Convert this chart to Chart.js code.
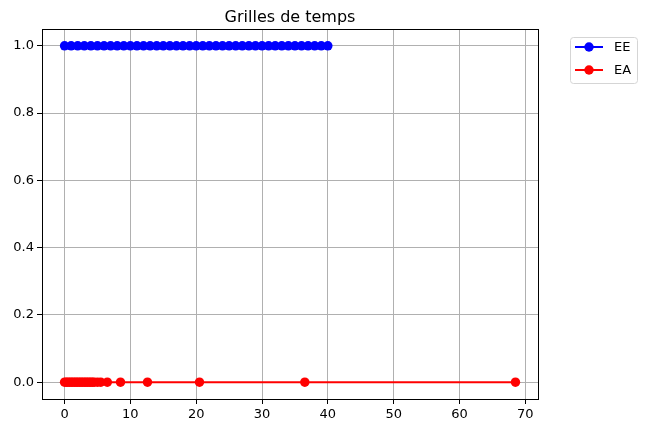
<!DOCTYPE html>
<html>
<head>
<meta charset="utf-8">
<script src="https://cdn.jsdelivr.net/npm/chart.js@4/dist/chart.umd.min.js"></script>
<style>
  html, body { margin: 0; padding: 0; background: #fff; }
  #wrap { width: 647px; height: 433px; }
</style>
</head>
<body>
<div id="wrap"><canvas id="c" width="647" height="433" role="img" aria-label="Grilles de temps: EE et EA"></canvas></div>
<script>
// time grids
const eeTimes = [0,1,2,3,4,5,6,7,8,9,10,11,12,13,14,15,16,17,18,19,20,
  21,22,23,24,25,26,27,28,29,30,31,32,33,34,35,36,37,38,39,40]
const eeLevel = 1
const eaTimes = [0,0.25,0.5,0.75,1,1.25,1.5,1.75,2,2.25,2.5,2.75,3,3.25,3.5,3.75,4,4.25,4.5,
  5,5.5,6.5,8.5,12.6,20.5,36.5,68.5]
const eaLevel = 0
const xTicks = [0,10,20,30,40,50,60,70]
const yTicks = [0,0.2,0.4,0.6,0.8,1.0]
const seriesNames = ['EE', 'EA']
const seriesColors = ['#0000ff', '#ff0000']
const chartTitle = 'Grilles de temps'

const FONT = 'DejaVu Sans, sans-serif'

const toPoints = (xs, y) => xs.map(x => ({ x, y }))

const frame = {
  id: 'frame',
  afterDraw(chart) {
    const { ctx, chartArea: a } = chart
    ctx.save()
    ctx.strokeStyle = '#000'
    ctx.lineWidth = 1
    ctx.strokeRect(Math.round(a.left) + 0.5, Math.round(a.top) + 0.5,
      Math.round(a.right - a.left), Math.round(a.bottom - a.top))
    // title
    ctx.fillStyle = '#000'
    ctx.font = '16px ' + FONT
    ctx.textAlign = 'center'
    ctx.textBaseline = 'alphabetic'
    ctx.fillText(chartTitle, (a.left + a.right) / 2, 22)
    // legend
    const lx = 570, ly = 37, lw = 67, lh = 46
    ctx.beginPath()
    ctx.roundRect(lx + 0.5, ly + 0.5, lw, lh, 3)
    ctx.fillStyle = 'rgba(255,255,255,0.8)'
    ctx.fill()
    ctx.strokeStyle = '#d5d5d5'
    ctx.stroke()
    ctx.font = '13px ' + FONT
    ctx.textAlign = 'left'
    ctx.textBaseline = 'middle'
    seriesNames.forEach((name, i) => {
      const y = ly + 10 + i * 23
      ctx.strokeStyle = seriesColors[i]
      ctx.lineWidth = 2
      ctx.beginPath()
      ctx.moveTo(lx + 5, y)
      ctx.lineTo(lx + 33, y)
      ctx.stroke()
      ctx.fillStyle = seriesColors[i]
      ctx.beginPath()
      ctx.arc(lx + 19, y, 4.7, 0, Math.PI * 2)
      ctx.fill()
      ctx.fillStyle = '#000'
      ctx.fillText(name, lx + 44, y + 1)
    })
    ctx.restore()
  }
}

new Chart(document.getElementById('c'), {
  type: 'scatter',
  data: {
    datasets: [
      { label: seriesNames[0], data: toPoints(eeTimes, eeLevel), showLine: true,
        borderColor: seriesColors[0], backgroundColor: seriesColors[0], borderWidth: 2,
        pointRadius: 4.7, pointBorderWidth: 0, pointHoverRadius: 4.7 },
      { label: seriesNames[1], data: toPoints(eaTimes, eaLevel), showLine: true,
        borderColor: seriesColors[1], backgroundColor: seriesColors[1], borderWidth: 2,
        pointRadius: 4.7, pointBorderWidth: 0, pointHoverRadius: 4.7 }
    ]
  },
  options: {
    responsive: false,
    animation: false,
    layout: { padding: { top: 29, right: 109, left: 0, bottom: 0 } },
    plugins: { legend: { display: false }, title: { display: false }, tooltip: { enabled: false } },
    scales: {
      x: {
        type: 'linear', min: -3.425, max: 71.925,
        afterBuildTicks: s => { s.ticks = xTicks.map(v => ({ value: v })) },
        afterFit: s => { s.height = 34 },
        grid: { color: '#b0b0b0', lineWidth: 1, tickColor: '#000', tickLength: 5 },
        border: { color: '#000' },
        ticks: { color: '#000', font: { family: FONT, size: 13 }, padding: 3, maxRotation: 0 }
      },
      y: {
        type: 'linear', min: -0.05, max: 1.05,
        afterBuildTicks: s => { s.ticks = yTicks.map(v => ({ value: v })) },
        afterFit: s => { s.width = 42 },
        grid: { color: '#b0b0b0', lineWidth: 1, tickColor: '#000', tickLength: 5 },
        border: { color: '#000' },
        ticks: { color: '#000', font: { family: FONT, size: 13 }, padding: 3,
          callback: v => v.toFixed(1) }
      }
    }
  },
  plugins: [frame]
})
</script>
</body>
</html>
